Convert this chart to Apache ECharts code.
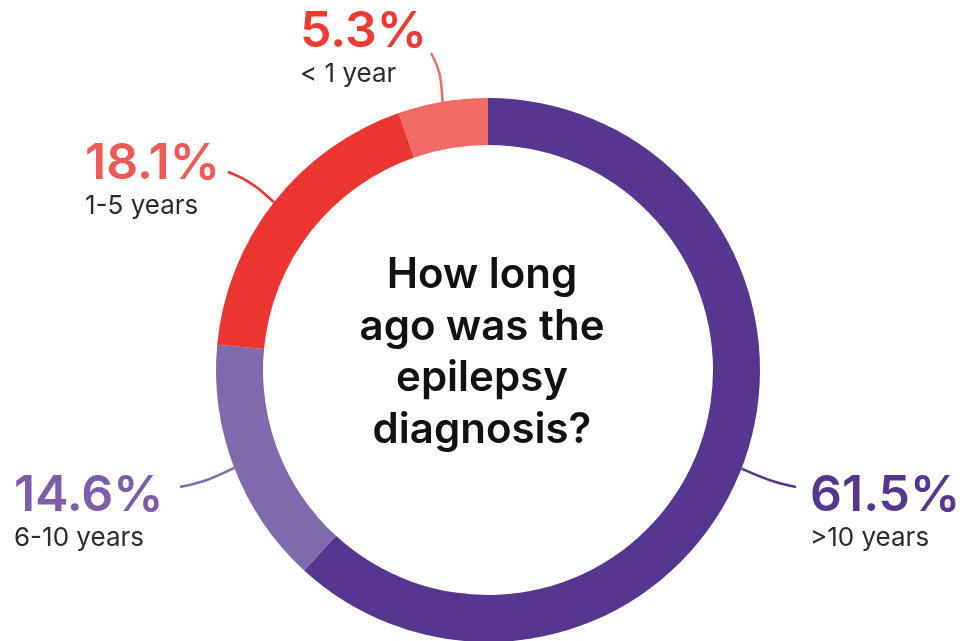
<!DOCTYPE html>
<html><head><meta charset="utf-8">
<script src="https://cdn.jsdelivr.net/npm/echarts@6/dist/echarts.min.js"></script>
<style>html,body{margin:0;padding:0;background:#fff}#c{width:960px;height:641px}</style>
</head><body><div id="c"></div>
<script>
var categories = ['>10 years', '6-10 years', '1-5 years', '< 1 year'];
var values = [61.5, 14.6, 18.1, 5.3];
var sliceColors = ['#56368F', '#8069AD', '#EC3431', '#F06A66'];
var pctColors = ['#56368F', '#7E5CA9', '#F05A55', '#EE3A33'];
var centerText = 'How long\nago was the\nepilepsy\ndiagnosis?';

// label placement: left x, number centre y, line mid point, line end point
var labelPlace = [
  {x: 810, y: 496, mx: 772, my: 482, ex: 796, ey: 487},
  {x: 14, y: 496, mx: 205, my: 482, ex: 180, ey: 487},
  {x: 85, y: 164, mx: 250, my: 181, ex: 228, ey: 172},
  {x: 300, y: 32, mx: 440, my: 70, ex: 431, ey: 53}
];

var chart = echarts.init(document.getElementById('c'));
var FONT = 'Inter, "Noto Sans", sans-serif';
chart.setOption({
  animation: false,
  graphic: [{
    type: 'text',
    style: {
      text: centerText, x: 482, y: 250, textAlign: 'center', textVerticalAlign: 'top',
      font: '600 42px ' + FONT, lineHeight: 51.5, fill: '#111'
    }
  }],
  series: [{
    type: 'pie',
    center: [488, 370],
    radius: [225, 272],
    startAngle: 90,
    clockwise: true,
    data: categories.map(function (c, i) {
      return {
        name: c, value: values[i],
        itemStyle: {color: sliceColors[i]},
        label: {rich: {p: {color: pctColors[i], fontSize: 50, fontWeight: 600, fontFamily: FONT, lineHeight: 46},
                       n: {color: '#2b2b2b', fontSize: 26, fontFamily: FONT, lineHeight: 38}}},
        labelLine: {lineStyle: {color: sliceColors[i], width: 2.5}}
      };
    }),
    label: {
      show: true, position: 'outside', align: 'left',
      formatter: function (p) { return '{p|' + p.value.toFixed(1) + '%}\n{n|' + p.name + '}'; }
    },
    labelLine: {show: true, smooth: 0.4, length: 10, length2: 10},
    labelLayout: function (params) {
      var lp = labelPlace[params.dataIndex];
      var a = params.labelLinePoints ? params.labelLinePoints[0] : [0, 0];
      return {
        x: lp.x, y: lp.y - 23, align: 'left', verticalAlign: 'top',
        labelLinePoints: [a, [lp.mx, lp.my], [lp.ex, lp.ey]]
      };
    },
    emphasis: {disabled: true}
  }]
});
</script></body></html>
